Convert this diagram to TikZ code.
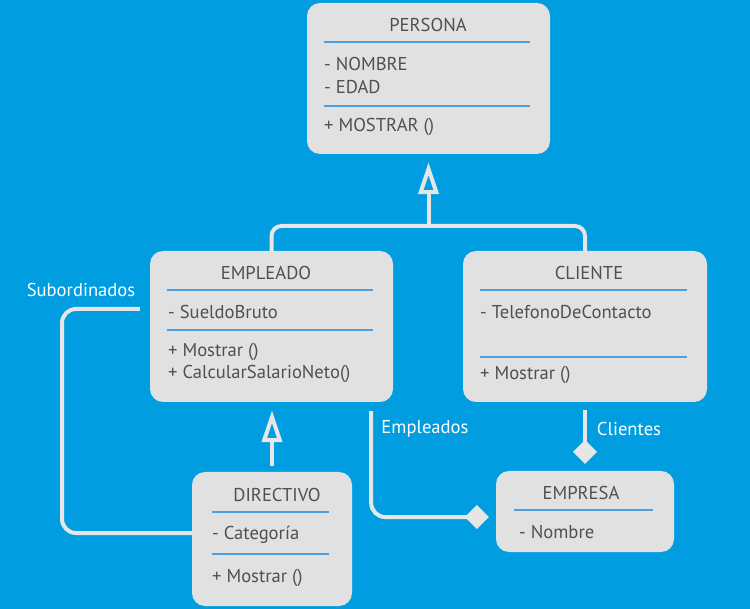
\documentclass[tikz,border=0pt]{standalone}
\usepackage{fontspec}
\setmainfont{PT Sans}
\usetikzlibrary{arrows.meta,positioning}

\definecolor{bgblue}{HTML}{009EE0}
\definecolor{boxgray}{HTML}{E1E1E1}
\definecolor{txtgray}{HTML}{505050}
\definecolor{sepblue}{HTML}{4AA0E2}
\definecolor{linkgray}{HTML}{E6E6E6}

\begin{document}
\begin{tikzpicture}[x=1pt,y=-1pt,
    every node/.style={font=\fontsize{18.6}{22}\selectfont, text=txtgray, inner sep=0pt},
    classbox/.style={fill=boxgray, rounded corners=13pt},
    member/.style={anchor=west},
    sepline/.style={draw=sepblue, line width=1.6pt},
    link/.style={draw=linkgray, line width=4pt},
    linklabel/.style={text=white},
    inherit/.style={link, -{Triangle[open, length=32pt, width=20pt]}},
    aggreg/.style={link, -{Diamond[length=24pt, width=24pt]}}]

    % Background
    \fill[bgblue] (0,0) rectangle (750,609);
    \useasboundingbox (0,0) rectangle (750,609);

    % Class boxes
    \node[classbox, minimum width=243pt, minimum height=151pt] (persona) at (428.5,78.5) {};
    \node[classbox, minimum width=243pt, minimum height=151pt] (empleado) at (271.5,326.5) {};
    \node[classbox, minimum width=244pt, minimum height=151pt] (cliente) at (585,326.5) {};
    \node[classbox, minimum width=160pt, minimum height=134pt] (directivo) at (272,539) {};
    \node[classbox, minimum width=178pt, minimum height=81pt] (empresa) at (585,511.5) {};

    % PERSONA
    \node (persona-title) at (428,24.5) {PERSONA};
    \draw[sepline] (324,42) -- (530,42);
    \node[member] (persona-nombre) at (324,63.5) {- NOMBRE};
    \node[member] (persona-edad) at (324,86.5) {- EDAD};
    \draw[sepline] (324,106) -- (530,106);
    \node[member] (persona-mostrar) at (324,126.5) {+ MOSTRAR ()};

    % EMPLEADO
    \node (empleado-title) at (266,272.5) {EMPLEADO};
    \draw[sepline] (167,290) -- (373,290);
    \node[member] (empleado-sueldo) at (168,311.5) {- SueldoBruto};
    \draw[sepline] (167,330) -- (373,330);
    \node[member] (empleado-mostrar) at (168,351.5) {+ Mostrar ()};
    \node[member] (empleado-calcular) at (168,373.5) {+ CalcularSalarioNeto()};

    % CLIENTE
    \node (cliente-title) at (589,272.5) {CLIENTE};
    \draw[sepline] (480,290) -- (687,290);
    \node[member] (cliente-telefono) at (480,311.5) {- TelefonoDeContacto};
    \draw[sepline] (480,357) -- (687,357);
    \node[member] (cliente-mostrar) at (480,374.5) {+ Mostrar ()};

    % DIRECTIVO
    \node (directivo-title) at (277,494.5) {DIRECTIVO};
    \draw[sepline] (212,512) -- (329,512);
    \node[member] (directivo-categoria) at (212,534.5) {- Categoría};
    \draw[sepline] (212,554) -- (329,554);
    \node[member] (directivo-mostrar) at (212,577.5) {+ Mostrar ()};

    % EMPRESA
    \node (empresa-title) at (581,492.5) {EMPRESA};
    \draw[sepline] (514,510) -- (653,510);
    \node[member] (empresa-nombre) at (519,531.5) {- Nombre};

    % Inheritance
    \coordinate (split) at (428.5,226);
    \draw[link, rounded corners=10pt] (empleado.north) |- (split) -| (cliente.north);
    \draw[inherit, shorten >=8pt] (split) -- (persona.south);
    \draw[inherit, shorten <=6pt, shorten >=8pt] (directivo.north) -- (directivo.north |- empleado.south);

    % Associations
    \coordinate (subcorner) at (62,533);
    \draw[link, rounded corners=14pt] ([xshift=-10pt,yshift=17.5pt]empleado.west) -| (subcorner) -- ([yshift=6pt]directivo.west);
    \draw[aggreg, rounded corners=14pt, shorten >=7pt] ([xshift=-22pt,yshift=-9pt]empleado.south east) |- ([yshift=-5.5pt]empresa.west);
    \draw[aggreg, shorten <=8pt, shorten >=7pt] (cliente.south) -- (empresa.north);

    % Role labels
    \node[linklabel] (sub-label) at (81,290) {Subordinados};
    \node[linklabel] (emp-label) at (425,428.5) {Empleados};
    \node[linklabel] (cli-label) at (629,428.5) {Clientes};
\end{tikzpicture}
\end{document}
